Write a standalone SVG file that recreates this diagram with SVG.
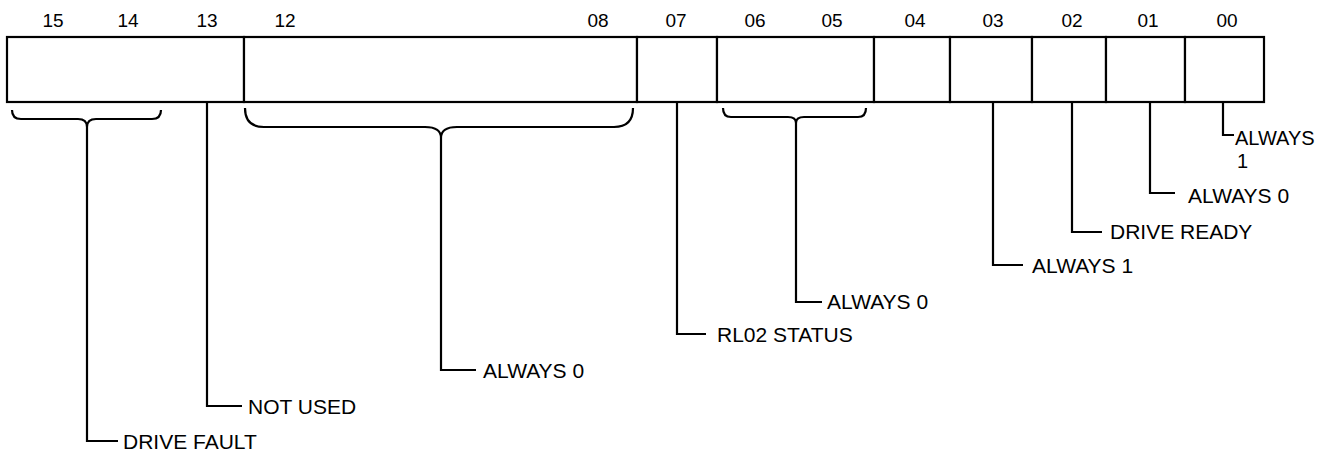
<svg xmlns="http://www.w3.org/2000/svg" width="1340" height="450" viewBox="0 0 1340 450">
<style>
.fld{fill:#fff;stroke:#000;stroke-width:2.2}
.num{font-family:"Liberation Sans",Arial,sans-serif;font-size:19px;fill:#000;text-anchor:middle}
.lbl{font-family:"Liberation Sans",Arial,sans-serif;font-size:21px;fill:#000}
.con{fill:none;stroke:#000;stroke-width:2.2;stroke-linejoin:miter}
</style>
<rect width="1340" height="450" fill="#fff"/>
<g id="field-15-13">
<rect class="fld" x="7" y="37" width="237" height="65"/>
<text class="num" x="53" y="27">15</text>
<text class="num" x="128" y="27">14</text>
<text class="num" x="207" y="27">13</text>
</g>
<g id="field-12-08">
<rect class="fld" x="244" y="37" width="393" height="65"/>
<text class="num" x="285" y="27">12</text>
<text class="num" x="598" y="27">08</text>
</g>
<g id="field-07">
<rect class="fld" x="637" y="37" width="80" height="65"/>
<text class="num" x="676" y="27">07</text>
</g>
<g id="field-06-05">
<rect class="fld" x="717" y="37" width="157" height="65"/>
<text class="num" x="755" y="27">06</text>
<text class="num" x="832" y="27">05</text>
</g>
<g id="field-04">
<rect class="fld" x="874" y="37" width="76" height="65"/>
<text class="num" x="915" y="27">04</text>
</g>
<g id="field-03">
<rect class="fld" x="950" y="37" width="82" height="65"/>
<text class="num" x="993" y="27">03</text>
</g>
<g id="field-02">
<rect class="fld" x="1032" y="37" width="74" height="65"/>
<text class="num" x="1072" y="27">02</text>
</g>
<g id="field-01">
<rect class="fld" x="1106" y="37" width="79" height="65"/>
<text class="num" x="1148" y="27">01</text>
</g>
<g id="field-00">
<rect class="fld" x="1185" y="37" width="79" height="65"/>
<text class="num" x="1227" y="27">00</text>
</g>
<g id="connectors">
<path class="con" d="M12,110 Q12,119 21,119 L78,119 Q87,119 87,127 Q87,119 96,119 L152,119 Q161,119 161,110"/>
<path class="con" d="M87,127 V441 H118"/>
<path class="con" d="M207,102 V406 H242"/>
<path class="con" d="M245,108 Q245,127 264,127 L425,127 Q441,127 441,138 Q441,127 457,127 L614,127 Q633,127 633,108"/>
<path class="con" d="M441,138 V370 H476"/>
<path class="con" d="M677,102 V334 H706"/>
<path class="con" d="M723,108 Q723,117 731,117 L788,117 Q796,117 796,123 Q796,117 804,117 L858,117 Q866,117 866,108"/>
<path class="con" d="M796,123 V302 H822"/>
<path class="con" d="M993,102 V265 H1023"/>
<path class="con" d="M1072,102 V232 H1102"/>
<path class="con" d="M1150,102 V193 H1175"/>
<path class="con" d="M1223,102 V135 H1234"/>
</g>
<g id="label-drive-fault"><text class="lbl" x="123" y="448.5">DRIVE FAULT</text></g>
<g id="label-not-used"><text class="lbl" x="248" y="414">NOT USED</text></g>
<g id="label-always0-12-08"><text class="lbl" x="483" y="378">ALWAYS 0</text></g>
<g id="label-rl02-status"><text class="lbl" x="717" y="342">RL02 STATUS</text></g>
<g id="label-always0-06-05"><text class="lbl" x="827" y="309">ALWAYS 0</text></g>
<g id="label-always1-03"><text class="lbl" x="1032" y="273">ALWAYS 1</text></g>
<g id="label-drive-ready"><text class="lbl" x="1110" y="239">DRIVE READY</text></g>
<g id="label-always0-01"><text class="lbl" x="1188" y="203">ALWAYS 0</text></g>
<g id="label-always1-00"><text class="lbl" x="1235" y="145" style="font-size:20px">ALWAYS</text><text class="lbl" x="1237" y="168" style="font-size:20px">1</text></g>
</svg>
